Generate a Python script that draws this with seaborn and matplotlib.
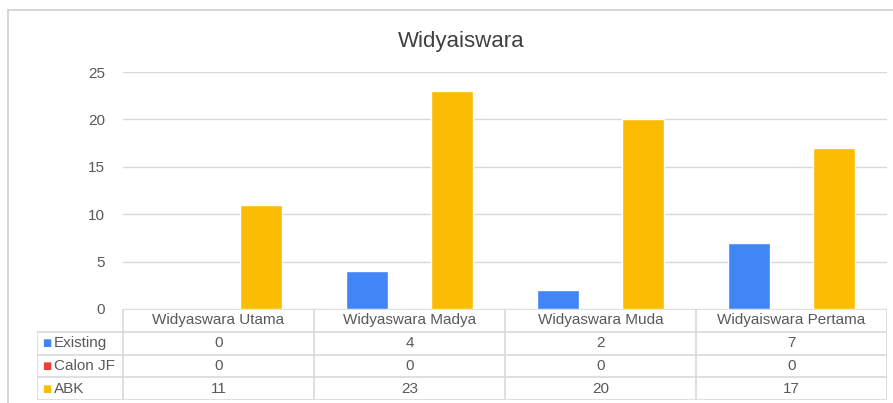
import numpy as np
import pandas as pd
import matplotlib
matplotlib.use("Agg")
import matplotlib.pyplot as plt
import seaborn as sns
from matplotlib.patches import Rectangle

sns.set_theme(style="white")
plt.rcParams.update({"font.family": ["Liberation Sans", "DejaVu Sans"]})

# data
categories = ["Widyaswara Utama", "Widyaswara Madya", "Widyaswara Muda", "Widyaiswara Pertama"]
series_names = ["Existing", "Calon JF", "ABK"]
existing = [0, 4, 2, 7]
calon_jf = [0, 0, 0, 0]
abk = [11, 23, 20, 17]
y_ticks = [0, 5, 10, 15, 20, 25]

COLORS = ["#4285F4", "#EA4335", "#FBBC04"]
GRID = "#d9d9d9"
TXT = "#595959"

df = pd.DataFrame({
    "category": categories * 3,
    "series": [s for s in series_names for _ in categories],
    "value": existing + calon_jf + abk,
})

W, H = 893, 403
fig = plt.figure(figsize=(W / 100, H / 100), dpi=100)

# outer chart border
fig.patches.append(Rectangle((8 / W, -0.05), 1.1, 1 - 10 / H + 0.05,
                             transform=fig.transFigure, fill=False,
                             edgecolor="#d0d0d0", lw=1.2, zorder=0))

ax = fig.add_axes([123 / W, 1 - 309 / H, (887 - 123) / W, (309 - 72) / H])
sns.barplot(data=df, x="category", y="value", hue="series", palette=COLORS,
            width=0.67, gap=0, ax=ax, legend=False, saturation=1)
ax.set_xlim(-0.5, len(categories) - 0.5)
ax.set_ylim(0, 25)
ax.set_yticks(y_ticks)
ax.set_xticks([])
ax.set_xlabel("")
ax.set_ylabel("")
ax.tick_params(axis="y", length=0, pad=13, labelsize=11, labelcolor=TXT)
ax.yaxis.grid(True, color=GRID, lw=1)
ax.set_axisbelow(True)
for s in ["top", "right", "left", "bottom"]:
    ax.spines[s].set_visible(False)

fig.text(461 / W, 1 - 41 / H, "Widyaiswara", ha="center", va="center",
         fontsize=16, color="#404040")

# data table under the plot
left_px = 37
unit = (887 - 123) / len(categories)
x_left = -0.5 - (123 - left_px) / unit
tax = fig.add_axes([left_px / W, 1 - 400 / H, (887 - left_px) / W, (400 - 309) / H])
tax.set_xlim(x_left, len(categories) - 0.5)
tax.set_ylim(4, 0)
tax.axis("off")

col_edges = np.arange(len(categories) + 1) - 0.5
tax.hlines(0, -0.5, col_edges[-1], color=GRID, lw=1.2)
tax.hlines([1, 2, 3, 4], x_left, col_edges[-1], color=GRID, lw=1.2)
tax.vlines(col_edges, 0, 4, color=GRID, lw=1.2)
tax.vlines(x_left, 1, 4, color=GRID, lw=1.2)

for i, cat in enumerate(categories):
    tax.text(i, 0.5, cat, ha="center", va="center", fontsize=11, color=TXT)

rows = [existing, calon_jf, abk]
for r, (name, vals, col) in enumerate(zip(series_names, rows, COLORS)):
    y = r + 1.5
    tax.text(x_left + 5 / unit, y, "■", ha="left", va="center", fontsize=7, color=col,
             family=["DejaVu Sans"])
    tax.text(x_left + 17 / unit, y, name, ha="left", va="center", fontsize=11, color=TXT)
    for i, v in enumerate(vals):
        tax.text(i, y, str(v), ha="center", va="center", fontsize=11, color=TXT)

fig.savefig("out.png", dpi=100)
